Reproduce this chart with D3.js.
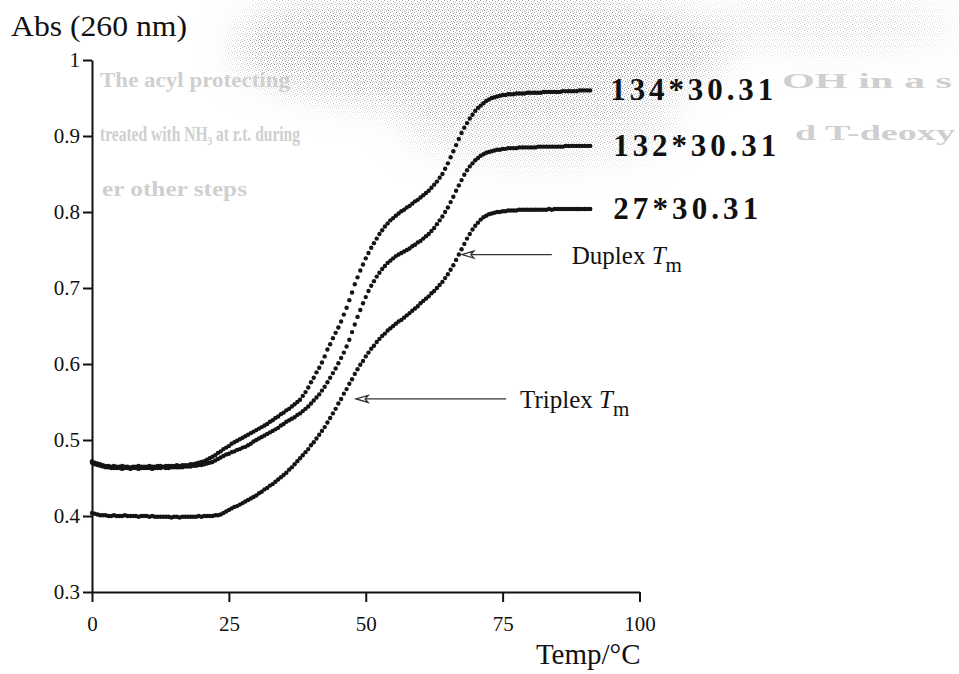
<!DOCTYPE html>
<html>
<head>
<meta charset="utf-8">
<script src="https://cdn.jsdelivr.net/npm/d3@7"></script>
<style>
  html, body { margin: 0; padding: 0; background: #fff; }
  svg { display: block; }
</style>
</head>
<body>
<svg id="chart" width="959" height="674"></svg>
<script>
// Melting curves: absorbance at 260 nm versus temperature, sampled every 0.5 °C
const temps = [
  0,0.5,1,1.5,2,2.5,3,3.5,4,4.5,5,5.5,6,6.5,7,7.5,8,8.5,9,9.5,
  10,10.5,11,11.5,12,12.5,13,13.5,14,14.5,15,15.5,16,16.5,17,17.5,18,18.5,19,19.5,
  20,20.5,21,21.5,22,22.5,23,23.5,24,24.5,25,25.5,26,26.5,27,27.5,28,28.5,29,29.5,
  30,30.5,31,31.5,32,32.5,33,33.5,34,34.5,35,35.5,36,36.5,37,37.5,38,38.5,39,39.5,
  40,40.5,41,41.5,42,42.5,43,43.5,44,44.5,45,45.5,46,46.5,47,47.5,48,48.5,49,49.5,
  50,50.5,51,51.5,52,52.5,53,53.5,54,54.5,55,55.5,56,56.5,57,57.5,58,58.5,59,59.5,
  60,60.5,61,61.5,62,62.5,63,63.5,64,64.5,65,65.5,66,66.5,67,67.5,68,68.5,69,69.5,
  70,70.5,71,71.5,72,72.5,73,73.5,74,74.5,75,75.5,76,76.5,77,77.5,78,78.5,79,79.5,
  80,80.5,81,81.5,82,82.5,83,83.5,84,84.5,85,85.5,86,86.5,87,87.5,88,88.5,89,89.5,
  90,90.5,91
];

const abs134 = [
  .472,.470,.469,.468,.467,.466,.466,.465,.466,.465,.465,.466,.465,.465,.464,.465,.465,.466,.465,.465,
  .465,.466,.465,.465,.466,.466,.465,.466,.466,.466,.466,.467,.466,.467,.467,.467,.468,.468,.469,.470,
  .471,.472,.474,.476,.478,.480,.483,.485,.488,.490,.492,.495,.497,.499,.501,.503,.505,.507,.509,.511,
  .513,.515,.517,.519,.521,.524,.526,.529,.531,.534,.536,.539,.541,.544,.547,.550,.553,.558,.563,.569,
  .576,.582,.589,.595,.602,.610,.619,.626,.634,.641,.648,.656,.665,.674,.684,.694,.705,.714,.723,.731,
  .739,.746,.753,.759,.765,.771,.776,.781,.785,.789,.792,.795,.798,.801,.803,.806,.808,.811,.814,.816,
  .819,.822,.825,.828,.832,.836,.840,.845,.850,.857,.864,.872,.880,.888,.896,.904,.911,.917,.923,.928,
  .933,.937,.940,.943,.946,.948,.950,.951,.952,.953,.954,.954,.955,.955,.955,.956,.956,.956,.956,.957,
  .957,.957,.957,.957,.957,.958,.958,.958,.958,.958,.958,.958,.959,.959,.959,.959,.959,.959,.960,.960,
  .960,.960,.960
];

const abs132 = [
  .470,.468,.467,.466,.465,.464,.464,.463,.463,.463,.463,.462,.463,.463,.462,.463,.463,.462,.463,.463,
  .463,.463,.462,.463,.463,.463,.464,.463,.463,.464,.464,.464,.464,.464,.465,.465,.465,.466,.466,.467,
  .467,.468,.469,.470,.471,.473,.475,.477,.479,.481,.482,.484,.485,.487,.488,.490,.491,.493,.495,.498,
  .500,.502,.504,.506,.508,.510,.512,.514,.516,.519,.521,.524,.526,.528,.530,.533,.535,.538,.541,.544,
  .548,.552,.556,.560,.565,.570,.576,.582,.588,.594,.601,.608,.615,.623,.632,.642,.652,.662,.671,.680,
  .688,.696,.703,.709,.715,.720,.725,.729,.733,.736,.739,.742,.744,.746,.748,.750,.752,.755,.757,.760,
  .762,.765,.768,.771,.775,.779,.784,.789,.794,.800,.806,.813,.820,.828,.835,.842,.849,.855,.860,.864,
  .868,.871,.874,.876,.878,.879,.880,.881,.882,.882,.883,.883,.884,.884,.884,.884,.885,.885,.885,.885,
  .885,.885,.885,.886,.886,.886,.886,.886,.886,.886,.886,.886,.886,.887,.887,.887,.887,.887,.887,.887,
  .887,.887,.887
];

const abs27 = [
  .404,.403,.402,.401,.401,.401,.400,.400,.401,.400,.400,.400,.401,.400,.400,.400,.400,.399,.400,.400,
  .400,.399,.400,.399,.399,.399,.399,.399,.399,.398,.399,.399,.398,.399,.399,.399,.399,.399,.399,.400,
  .399,.400,.400,.400,.400,.401,.401,.402,.404,.406,.408,.410,.412,.413,.415,.417,.419,.421,.423,.425,
  .427,.430,.432,.435,.437,.440,.442,.445,.448,.451,.454,.457,.461,.464,.468,.472,.476,.480,.484,.488,
  .493,.497,.502,.507,.512,.517,.523,.529,.535,.541,.548,.554,.561,.567,.574,.580,.587,.593,.599,.604,
  .610,.615,.620,.624,.629,.633,.637,.640,.644,.647,.650,.653,.656,.658,.661,.664,.667,.670,.673,.676,
  .680,.683,.686,.689,.693,.696,.700,.704,.708,.713,.718,.724,.730,.737,.744,.751,.758,.765,.771,.777,
  .782,.786,.790,.793,.795,.797,.798,.799,.800,.800,.801,.801,.802,.802,.802,.802,.803,.803,.803,.803,
  .803,.803,.803,.803,.803,.803,.803,.804,.803,.804,.804,.804,.804,.804,.804,.804,.804,.804,.804,.804,
  .804,.804,.804
];

const seriesNames = ["134*30.31", "132*30.31", "27*30.31"];
const seriesValues = [abs134, abs132, abs27];

const xTicks = [0, 25, 50, 75, 100];
const xTickLabels = ["0", "25", "50", "75", "100"];
const yTicks = [0.3, 0.4, 0.5, 0.6, 0.7, 0.8, 0.9, 1];
const yTickLabels = ["0.3", "0.4", "0.5", "0.6", "0.7", "0.8", "0.9", "1"];

// Transition annotations on the 27*30.31 curve
const transitionNames = ["Duplex", "Triplex"];
const transitionTemps = [67, 45.5];

// Faint show-through text from the reverse page of the scan
const showThroughLines = [
  "The acyl protecting",
  "OH in a s",
  "treated with NH\u2083 at r.t. during",
  "d T-deoxy",
  "er other steps"
];

// ---------------------------------------------------------------
const svg = d3.select("#chart");
const serif = "'Liberation Serif', 'DejaVu Serif', 'Times New Roman', serif";

const x = d3.scaleLinear().domain([0, 100]).range([92, 639.5]);
const y = d3.scaleLinear().domain([0.3, 1]).range([592, 60]);

// --- paper texture: grey stipple showing through in the upper band ---
const defs = svg.append("defs");
const pat = defs.append("pattern")
  .attr("id", "stipple").attr("width", 6).attr("height", 6)
  .attr("patternUnits", "userSpaceOnUse");
[[0,0,"#808080"],[3,1,"#8e8e8e"],[1,3,"#999"],[4,4,"#808080"],[5,2,"#b0b0b0"],[2,5,"#a8a8a8"],[3,3,"#bdbdbd"],[0,4,"#c4c4c4"]]
  .forEach(p => pat.append("rect").attr("x", p[0]).attr("y", p[1])
    .attr("width", 1).attr("height", 1).attr("fill", p[2]));

defs.append("filter").attr("id", "soft")
  .attr("x", "-50%").attr("y", "-50%").attr("width", "200%").attr("height", "200%")
  .append("feGaussianBlur").attr("stdDeviation", 18);

const mask = defs.append("mask").attr("id", "hazeMask")
  .attr("maskUnits", "userSpaceOnUse").attr("x", 0).attr("y", 0).attr("width", 959).attr("height", 674);
const mg = mask.append("g").attr("filter", "url(#soft)");
[
  [480, 50, 250, 62, 0.95],
  [540, 125, 140, 40, 0.6],
  [830, 25, 130, 30, 0.45],
  [320, 15, 80, 20, 0.45]
].forEach(e => mg.append("ellipse")
  .attr("cx", e[0]).attr("cy", e[1]).attr("rx", e[2]).attr("ry", e[3])
  .attr("fill", "#fff").attr("fill-opacity", e[4]));

svg.append("rect").attr("width", 959).attr("height", 674)
  .attr("fill", "url(#stipple)").attr("mask", "url(#hazeMask)");

const ghost = svg.append("g")
  .attr("font-family", serif).attr("font-weight", "bold").attr("font-size", 20)
  .attr("fill", "#cfcfcf");
[
  [100, 87, 190],
  [782, 88, 170],
  [100, 141, 200],
  [795, 140, 160],
  [102, 196, 145]
].forEach((p, i) => ghost.append("text")
  .attr("x", p[0]).attr("y", p[1]).attr("textLength", p[2])
  .attr("lengthAdjust", "spacingAndGlyphs")
  .text(showThroughLines[i]));

// --- axes ---
const yAxis = d3.axisLeft(y)
  .tickValues(yTicks)
  .tickFormat((d, i) => yTickLabels[i])
  .tickSize(9).tickSizeOuter(0).tickPadding(3);
const gy = svg.append("g").attr("transform", `translate(${x(0)},0)`).call(yAxis);

const xAxis = d3.axisBottom(x)
  .tickValues(xTicks)
  .tickFormat((d, i) => xTickLabels[i])
  .tickSize(10).tickSizeOuter(0).tickPadding(14);
const gx = svg.append("g").attr("transform", `translate(0,${y(0.3)})`).call(xAxis);

[gx, gy].forEach(g => {
  g.select(".domain").attr("stroke", "#111").attr("stroke-width", 2);
  g.selectAll(".tick line").attr("stroke", "#111").attr("stroke-width", 2);
  g.selectAll(".tick text")
    .attr("font-family", serif).attr("font-size", 21).attr("fill", "#111");
});

// axis titles
svg.append("text")
  .attr("x", 11).attr("y", 36)
  .attr("font-family", serif).attr("font-size", 29).attr("fill", "#111")
  .attr("textLength", 176).attr("lengthAdjust", "spacingAndGlyphs")
  .text("Abs (260 nm)");

svg.append("text")
  .attr("x", x(100) + 1).attr("y", 664)
  .attr("text-anchor", "end")
  .attr("font-family", serif).attr("font-size", 29).attr("fill", "#111")
  .text("Temp/\u00B0C");

// --- melting curves drawn as sampled points ---
const curves = svg.append("g").attr("fill", "#141414");
seriesValues.forEach(vals => {
  curves.append("g").selectAll("circle")
    .data(temps.map((t, i) => [t, vals[i]]))
    .join("circle")
    .attr("cx", d => x(d[0]))
    .attr("cy", d => y(d[1]))
    .attr("r", 2.2);
});

// series labels at the end of each curve
const lastT = temps[temps.length - 1];
seriesNames.forEach((name, i) => {
  const vals = seriesValues[i];
  const v = vals[vals.length - 1];
  svg.append("text")
    .attr("x", x(lastT) + (i === 0 ? 20 : 23))
    .attr("y", y(v) + 10)
    .attr("font-family", serif).attr("font-weight", "bold")
    .attr("font-size", 31).attr("fill", "#111")
    .attr("textLength", name.length === 9 ? 163 : 145)
    .attr("lengthAdjust", "spacing")
    .text(name);
});

// --- transition arrows and labels ---
const arrowLen = [90, 150];
const tipGap = [3, 15];
const labelGap = [20, 14];
transitionNames.forEach((name, i) => {
  const t = transitionTemps[i];
  const idx = temps.indexOf(t);
  const ay = y(abs27[idx]);
  const tipX = x(t) + tipGap[i];
  const tailX = tipX + arrowLen[i];
  const ag = svg.append("g").attr("stroke", "#333").attr("stroke-width", 1.3).attr("fill", "none");
  ag.append("line").attr("x1", tipX + 7).attr("y1", ay).attr("x2", tailX).attr("y2", ay);
  ag.append("path")
    .attr("d", `M${tipX},${ay} L${tipX + 12},${ay - 3.5} L${tipX + 9},${ay} L${tipX + 12},${ay + 3.5} Z`)
    .attr("fill", "#fff");

  const lbl = svg.append("text")
    .attr("x", tailX + labelGap[i]).attr("y", ay + 9)
    .attr("font-family", serif).attr("font-size", 25).attr("fill", "#111");
  lbl.append("tspan").text(name + " ");
  lbl.append("tspan").attr("font-style", "italic").text("T");
  lbl.append("tspan").attr("font-size", 21).attr("dy", 8).text("m");
});
</script>
</body>
</html>
